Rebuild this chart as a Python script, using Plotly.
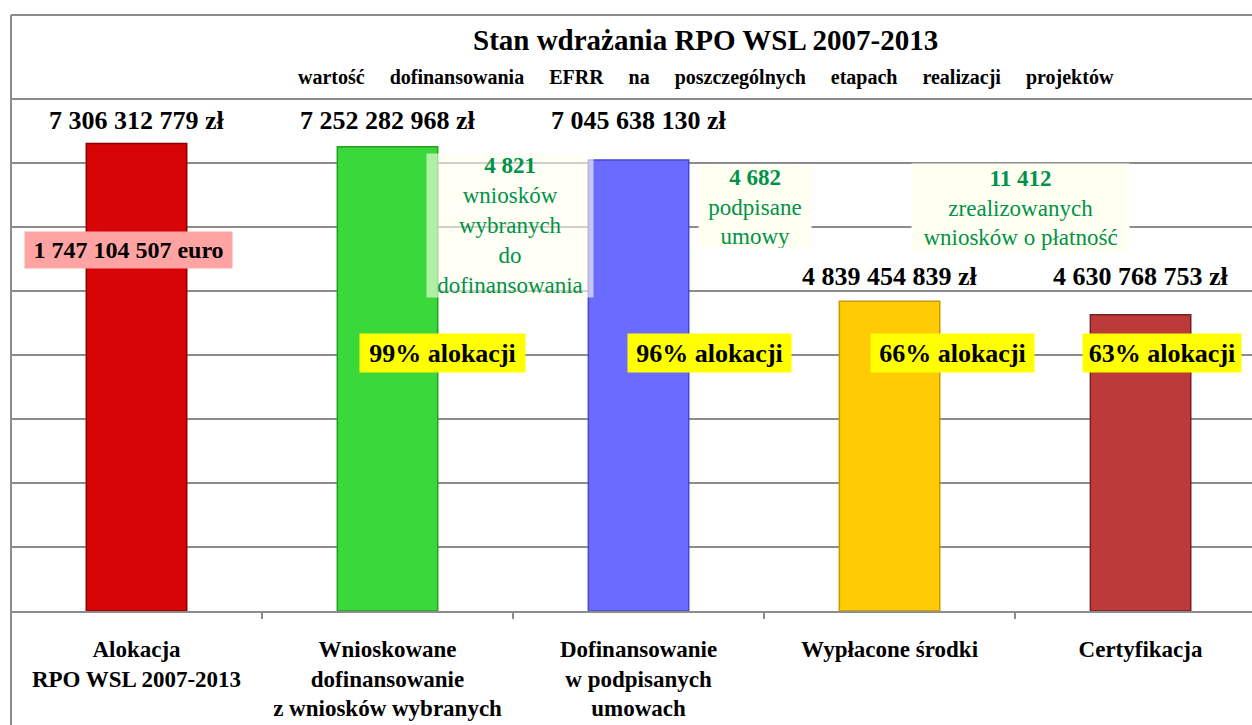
import plotly.graph_objects as go

# ---------------- data ----------------
categories = [
    "Alokacja<br>RPO WSL 2007-2013",
    "Wnioskowane<br>dofinansowanie<br>z wniosków wybranych",
    "Dofinansowanie<br>w podpisanych<br>umowach",
    "Wypłacone środki",
    "Certyfikacja",
]
values = [7306312779, 7252282968, 7045638130, 4839454839, 4630768753]
value_labels = ["7 306 312 779 zł", "7 252 282 968 zł", "7 045 638 130 zł",
                "4 839 454 839 zł", "4 630 768 753 zł"]
percent_labels = ["99% alokacji", "96% alokacji", "66% alokacji", "63% alokacji"]
euro_label = "1 747 104 507 euro"
count_numbers = ["4 821", "4 682", "11 412"]
count_texts = ["wniosków<br>wybranych<br>do<br>dofinansowania",
               "podpisane<br>umowy",
               "zrealizowanych<br>wniosków o płatność"]
title_text = "Stan wdrażania RPO WSL 2007-2013"
subtitle_words = ["wartość", "dofinansowania", "EFRR", "na", "poszczególnych",
                  "etapach", "realizacji", "projektów"]

# ---------------- positions / styles ----------------
bar_colors = ["#D70505", "#3AD83A", "#6B6BFF", "#FFCB05", "#BC3A3A"]
bar_lines = ["#8A0000", "#22A022", "#4848C8", "#C89A00", "#7A2020"]
value_label_y = [7.67e9, 7.67e9, 7.67e9, 5.22e9, 5.22e9]
percent_x = [1.22, 2.283, 3.251, 4.086]
percent_w = [165, 163, 163, 158]
percent_y = 4.03e9
count_x = [1.488, 2.464, 3.522]
count_y = [6.02e9, 6.31e9, 6.30e9]
count_w = [166, 112, 217]
count_h = [143, 82, 88]
count_bg = ["rgba(255,255,238,0.6)", "#FFFFF2", "#FFFFF2"]

FONT = "Liberation Serif, Times New Roman, serif"
GREEN = "#00924A"
GRID = "#8C8C8C"

fig = go.Figure()
fig.add_trace(go.Bar(
    x=categories, y=values,
    marker=dict(color=bar_colors, line=dict(color=bar_lines, width=1.5)),
    hoverinfo="skip", showlegend=False,
))

annotations = []
# value labels
for i, t in enumerate(value_labels):
    annotations.append(dict(x=i, y=value_label_y[i], xref="x", yref="y", text=t,
                            showarrow=False, yanchor="middle",
                            font=dict(family=FONT, size=26, color="black", weight="bold")))
# percent labels
for i, t in enumerate(percent_labels):
    annotations.append(dict(x=percent_x[i], y=percent_y, xref="x", yref="y", text=t,
                            showarrow=False, bgcolor="#FFFF00", borderpad=0,
                            width=percent_w[i], height=38,
                            font=dict(family=FONT, size=26, color="black", weight="bold")))
# euro label
annotations.append(dict(x=-0.032, y=5.64e9, xref="x", yref="y", text=euro_label,
                        showarrow=False, bgcolor="#FFA3A3", borderpad=0,
                        width=207, height=36,
                        font=dict(family=FONT, size=24, color="black", weight="bold")))
# count notes
for i in range(3):
    annotations.append(dict(x=count_x[i], y=count_y[i], xref="x", yref="y",
                            text="<b>" + count_numbers[i] + "</b><br>" + count_texts[i],
                            showarrow=False, bgcolor=count_bg[i], borderpad=0,
                            width=count_w[i], height=count_h[i],
                            font=dict(family=FONT, size=23, color=GREEN)))
# titles
annotations.append(dict(x=0.56, y=(611 - 40) / 596, xref="paper", yref="paper",
                        text=title_text, showarrow=False, yanchor="middle",
                        font=dict(family=FONT, size=29, color="black", weight="bold")))
sub = ("\u00a0" * 5).join(subtitle_words)
annotations.append(dict(x=0.56, y=(611 - 77) / 596, xref="paper", yref="paper",
                        text=sub, showarrow=False, yanchor="middle",
                        font=dict(family=FONT, size=20, color="black", weight="bold")))

shapes = [
    dict(type="line", xref="paper", yref="paper", x0=0, x1=0, y0=-0.25, y1=1,
         line=dict(color=GRID, width=2)),
    dict(type="line", xref="paper", yref="paper", x0=0, x1=1.02, y0=1, y1=1,
         line=dict(color=GRID, width=2)),
]

fig.update_layout(
    width=1252, height=725,
    margin=dict(l=11, r=0, t=15, b=114),
    paper_bgcolor="white", plot_bgcolor="white",
    bargap=0.6,
    annotations=annotations,
    shapes=shapes,
    xaxis=dict(
        range=[-0.5, 4.444], tickson="boundaries", ticks="outside", ticklen=6,
        tickcolor=GRID, tickwidth=1.5, showline=True, linecolor=GRID, linewidth=2,
        showgrid=False, ticklabelstandoff=16,
        tickfont=dict(family=FONT, size=23, color="black", weight="bold"),
    ),
    yaxis=dict(
        range=[0, 596 / 64 * 1e9], tickvals=[i * 1e9 for i in range(1, 9)],
        showticklabels=False, showgrid=True, gridcolor=GRID, gridwidth=1.5,
        zeroline=False, fixedrange=True,
    ),
)

fig.write_html("out.html", config={"displayModeBar": False},
               post_script="document.body.style.margin='0';")
